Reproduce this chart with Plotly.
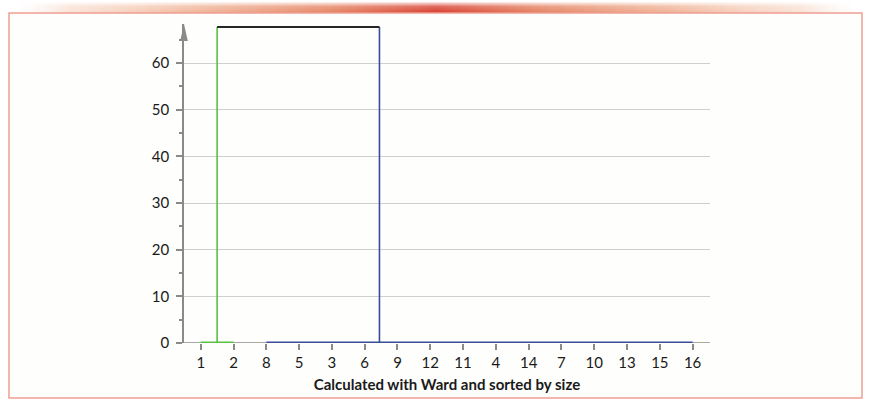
import plotly.graph_objects as go
import base64

# ---- data ----
leaf_labels = ["1", "2", "8", "5", "3", "6", "9", "12", "11", "4", "14", "7", "10", "13", "15", "16"]
green_leaves = ["1", "2"]
blue_leaves = ["8", "5", "3", "6", "9", "12", "11", "4", "14", "7", "10", "13", "15", "16"]
low_merge_height = 0.15        # within-cluster merges (near zero)
top_merge_height = 67.7        # final Ward merge
green_link_pos = 0.5           # position of green cluster link (leaf index units)
blue_link_pos = 5.45           # position of blue cluster link (leaf index units)
y_ticks = [0, 10, 20, 30, 40, 50, 60]

pos = {lab: i for i, lab in enumerate(leaf_labels)}
GREEN = "#5cbf45"
BLUE = "#3a4d98"
BLACK = "#262626"
AX = "#8a8a8a"

fig = go.Figure()

gx0, gx1 = pos[green_leaves[0]], pos[green_leaves[-1]]
fig.add_trace(go.Scatter(x=[gx0, gx1], y=[low_merge_height, low_merge_height], mode="lines",
                         line=dict(color=GREEN, width=1.6), hoverinfo="skip"))
fig.add_trace(go.Scatter(x=[green_link_pos, green_link_pos], y=[low_merge_height, top_merge_height], mode="lines",
                         line=dict(color=GREEN, width=1.6), hoverinfo="skip"))
bx0, bx1 = pos[blue_leaves[0]], pos[blue_leaves[-1]]
fig.add_trace(go.Scatter(x=[bx0, bx1], y=[low_merge_height, low_merge_height], mode="lines",
                         line=dict(color=BLUE, width=1.6), hoverinfo="skip"))
fig.add_trace(go.Scatter(x=[blue_link_pos, blue_link_pos], y=[low_merge_height, top_merge_height], mode="lines",
                         line=dict(color=BLUE, width=1.6), hoverinfo="skip"))
fig.add_trace(go.Scatter(x=[green_link_pos, blue_link_pos], y=[top_merge_height, top_merge_height], mode="lines",
                         line=dict(color=BLACK, width=2), hoverinfo="skip"))

L, R, T, B = 184, 162, 24, 65
W, H = 872, 408
plot_w = W - L - R
plot_h = H - T - B

def px(x):
    return (x - L) / plot_w

def py(y):
    return (H - B - y) / plot_h

shapes = []
shapes.append(dict(type="rect", xref="paper", yref="paper",
                   x0=px(9), x1=px(862), y0=py(398), y1=py(13),
                   line=dict(color="#ef9e93", width=1.5), fillcolor="#fefefc", layer="below"))
shapes.append(dict(type="line", xref="paper", yref="y", x0=px(178), x1=1, y0=0, y1=0,
                   line=dict(color=AX, width=1.5), layer="below"))
ah = 17 / plot_h
aw = 3.8 / plot_w
shapes.append(dict(type="path", xref="paper", yref="paper",
                   path=f"M {-aw} {1-ah} L 0 1 L {aw} {1-ah} Z",
                   fillcolor=AX, line=dict(width=0)))

# smooth decorative gradient band at the top (SVG image)
svg = """<svg xmlns='http://www.w3.org/2000/svg' width='872' height='11' viewBox='0 0 872 11'>
<defs>
<linearGradient id='h' x1='0' y1='0' x2='1' y2='0'>
<stop offset='0.02' stop-color='#f8e0d2' stop-opacity='0'/>
<stop offset='0.08' stop-color='#f5cfb9' stop-opacity='0.6'/>
<stop offset='0.22' stop-color='#efae8f' stop-opacity='0.9'/>
<stop offset='0.38' stop-color='#e4805f' stop-opacity='1'/>
<stop offset='0.5' stop-color='#d63a2a' stop-opacity='1'/>
<stop offset='0.62' stop-color='#e4805f' stop-opacity='1'/>
<stop offset='0.78' stop-color='#efae8f' stop-opacity='0.9'/>
<stop offset='0.92' stop-color='#f5cfb9' stop-opacity='0.6'/>
<stop offset='0.98' stop-color='#f8e0d2' stop-opacity='0'/>
</linearGradient>
<linearGradient id='v' x1='0' y1='0' x2='0' y2='1'>
<stop offset='0' stop-color='white' stop-opacity='0.1'/>
<stop offset='0.4' stop-color='white' stop-opacity='0.75'/>
<stop offset='1' stop-color='white' stop-opacity='1'/>
</linearGradient>
<mask id='m'><rect width='872' height='11' fill='url(#v)'/></mask>
</defs>
<rect width='872' height='11' fill='url(#h)' mask='url(#m)'/>
</svg>"""
src = "data:image/svg+xml;base64," + base64.b64encode(svg.encode()).decode()

fig.update_layout(
    width=W, height=H,
    margin=dict(l=L, r=R, t=T, b=B),
    paper_bgcolor="white", plot_bgcolor="rgba(0,0,0,0)",
    showlegend=False,
    font=dict(family="Lato, 'Open Sans', sans-serif", size=15, color="#1a1a1a"),
    shapes=shapes,
    images=[dict(source=src, xref="paper", yref="paper", x=px(0), y=py(2),
                 sizex=W / plot_w, sizey=11 / plot_h, xanchor="left", yanchor="top",
                 sizing="stretch", layer="below")],
    xaxis=dict(range=[-0.51, 15.53], tickmode="array", tickvals=list(range(len(leaf_labels))),
               ticktext=leaf_labels, ticks="outside", ticklen=6, tickcolor=AX, tickwidth=1.5,
               showgrid=False, zeroline=False, showline=False,
               tickfont=dict(size=15, color="#1a1a1a"),
               title=dict(text="<b>Calculated with Ward and sorted by size</b>",
                          font=dict(size=15, color="#1a1a1a"), standoff=9)),
    yaxis=dict(range=[0, plot_h / (280 / 60)], tickmode="array", tickvals=y_ticks,
               ticks="outside", ticklen=6, tickcolor=AX, tickwidth=1.5,
               showgrid=True, gridcolor="#cfcfcf", gridwidth=1,
               zeroline=False, showline=True, linecolor=AX, linewidth=1.5,
               minor=dict(dtick=5, ticks="outside", ticklen=3, tickcolor=AX, showgrid=False),
               tickfont=dict(size=15, color="#1a1a1a"), ticklabelstandoff=4),
)

fig.write_html("out.html", config={"displayModeBar": False},
               post_script="document.body.style.margin='0';")
